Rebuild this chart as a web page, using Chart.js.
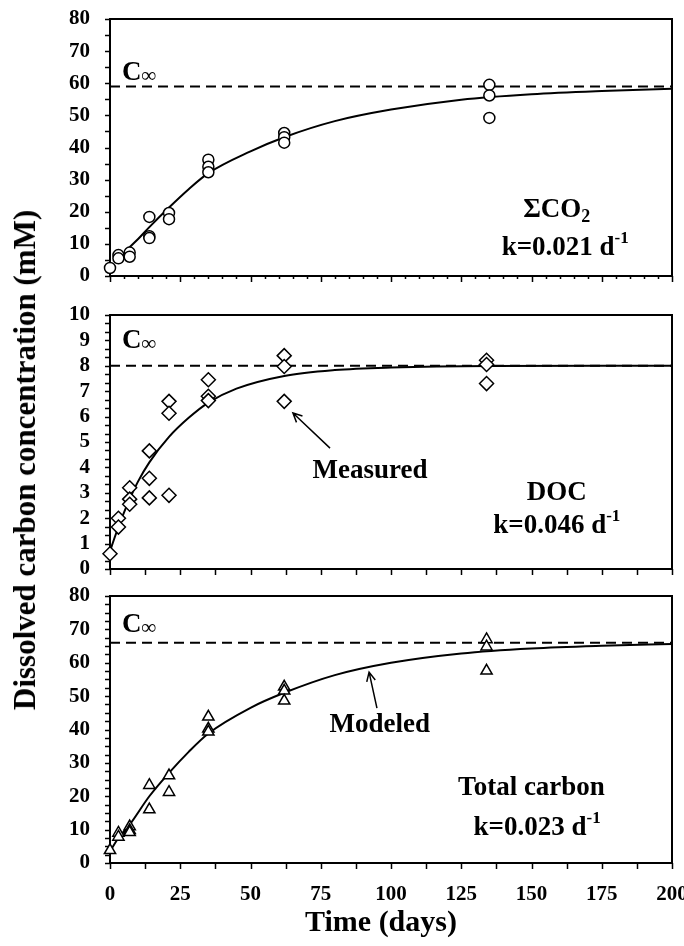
<!DOCTYPE html>
<html>
<head>
<meta charset="utf-8">
<script src="https://cdn.jsdelivr.net/npm/chart.js@4"></script>
<style>
  body { margin: 0; background: #fff; }
  #wrap { position: relative; width: 684px; height: 946px; }
  canvas { position: absolute; left: 0; }
  .title { position: absolute; font: bold 30px "Liberation Serif", serif; white-space: nowrap; color: #000; }
  #ytitle { left: 25px; top: 460px; transform: translate(-50%, -50%) rotate(-90deg); font-size: 31px; }
  #xtitle { left: 381px; top: 921px; transform: translate(-50%, -50%); }
</style>
</head>
<body>
<div id="wrap">
  <canvas id="co2Chart" width="684" height="290" style="top:0"></canvas>
  <canvas id="docChart" width="684" height="283" style="top:300px"></canvas>
  <canvas id="tcChart" width="684" height="366" style="top:580px"></canvas>
  <div class="title" id="ytitle">Dissolved carbon concentration (mM)</div>
  <div class="title" id="xtitle">Time (days)</div>
</div>
<script>
// x axis
const xTicks = [0, 25, 50, 75, 100, 125, 150, 175, 200];

// sum CO2 - measured and modeled
const co2Days = [0, 3, 3, 7, 7, 14, 14, 14, 21, 21, 35, 35, 35, 62, 62, 62, 135, 135, 135];
const co2Values = [2.5, 6.5, 5.5, 7.3, 6.0, 18.4, 12.4, 11.8, 19.6, 17.7, 36.2, 34.0, 32.3, 44.5, 43.2, 41.5, 59.5, 56.2, 49.2];
const co2CurveDays = [6, 10, 14, 21, 28, 35, 50, 62, 80, 100, 125, 150, 175, 200];
const co2CurveValues = [8.2, 11.5, 15.2, 21.3, 27.0, 32.0, 38.8, 43.2, 48.2, 51.8, 54.9, 56.6, 57.6, 58.3];
const co2Cinf = 59;
const co2YTicks = [0, 10, 20, 30, 40, 50, 60, 70, 80];

// DOC
const docDays = [0, 3, 3, 7, 7, 7, 14, 14, 14, 21, 21, 21, 35, 35, 35, 62, 62, 62, 134, 134, 134];
const docValues = [0.6, 2.0, 1.65, 3.2, 2.75, 2.55, 4.65, 3.57, 2.8, 6.6, 6.13, 2.9, 7.45, 6.8, 6.63, 8.4, 7.97, 6.6, 8.22, 8.05, 7.3];
const docCurveDays = [0, 2, 4, 7, 10, 14, 21, 28, 35, 45, 62, 80, 100, 135, 200];
const docCurveValues = [0.7, 1.35, 1.95, 2.75, 3.45, 4.2, 5.2, 5.95, 6.55, 7.1, 7.6, 7.83, 7.93, 7.99, 8.0];
const docCinf = 8;
const docYTicks = [0, 1, 2, 3, 4, 5, 6, 7, 8, 9, 10];

// total carbon
const tcDays = [0, 3, 3, 7, 7, 7, 14, 14, 21, 21, 35, 35, 35, 62, 62, 62, 134, 134, 134];
const tcValues = [3.8, 9.0, 7.8, 10.9, 9.8, 9.2, 23.3, 16.0, 26.2, 21.2, 43.8, 40.2, 39.3, 52.8, 51.6, 48.6, 67.0, 64.8, 57.6];
const tcCurveDays = [0, 3, 7, 14, 21, 28, 35, 50, 62, 80, 100, 125, 150, 175, 200];
const tcCurveValues = [3.5, 7.5, 11.5, 20.0, 27.0, 33.3, 38.8, 46.5, 51.0, 56.3, 60.0, 62.8, 64.3, 65.1, 65.6];
const tcCinf = 66;
const tcYTicks = [0, 10, 20, 30, 40, 50, 60, 70, 80];

const FONT = '"Liberation Serif", serif';

function pts(xs, ys) {
  return xs.map((x, i) => ({ x: x, y: ys[i] }));
}

// draws text pieces (normal / sub / sup) side by side, y is the baseline
function drawParts(ctx, parts, x, y, align) {
  let w = 0;
  parts.forEach(p => {
    ctx.font = 'bold ' + p[1] + 'px ' + FONT;
    w += ctx.measureText(p[0]).width;
  });
  let cx = align === 'center' ? x - w / 2 : x;
  ctx.textAlign = 'left';
  ctx.textBaseline = 'alphabetic';
  parts.forEach(p => {
    ctx.font = 'bold ' + p[1] + 'px ' + FONT;
    ctx.fillText(p[0], cx, y + p[2]);
    cx += ctx.measureText(p[0]).width;
  });
}

const panelPlugin = {
  id: 'panel',
  beforeDatasetsDraw(chart, args, opts) {
    const ctx = chart.ctx;
    const a = chart.chartArea;
    const xs = chart.scales.x, ys = chart.scales.y;
    ctx.save();
    ctx.strokeStyle = '#000';
    ctx.fillStyle = '#000';

    // ticks, major from the tick arrays, minor in between
    ctx.lineWidth = 1.5;
    ctx.beginPath();
    const n = Math.round(200 / opts.xMinor);
    for (let i = 0; i <= n; i++) {
      const v = i * opts.xMinor;
      const px = Math.round(xs.getPixelForValue(v)) + 0.5;
      const len = xTicks.includes(v) ? 6 : opts.xMinorLen;
      ctx.moveTo(px, a.bottom);
      ctx.lineTo(px, a.bottom + len);
    }
    const m = Math.round(ys.max / opts.yMinor);
    for (let i = 0; i <= m; i++) {
      const v = i * opts.yMinor;
      const py = Math.round(ys.getPixelForValue(v)) + 0.5;
      ctx.moveTo(a.left, py);
      ctx.lineTo(a.left - 5, py);
    }
    ctx.stroke();

    // frame
    ctx.lineWidth = 2;
    ctx.strokeRect(a.left, a.top, a.right - a.left, a.bottom - a.top);

    // labels
    opts.labels.forEach(l => {
      drawParts(ctx, l.parts, xs.getPixelForValue(l.x), ys.getPixelForValue(l.y), l.align);
    });

    // arrows
    ctx.lineWidth = 1.5;
    (opts.arrows || []).forEach(ar => {
      const x1 = xs.getPixelForValue(ar.from[0]), y1 = ys.getPixelForValue(ar.from[1]);
      const x2 = xs.getPixelForValue(ar.to[0]), y2 = ys.getPixelForValue(ar.to[1]);
      const ang = Math.atan2(y2 - y1, x2 - x1);
      ctx.beginPath();
      ctx.moveTo(x1, y1);
      ctx.lineTo(x2, y2);
      ctx.moveTo(x2 - 10 * Math.cos(ang - 0.45), y2 - 10 * Math.sin(ang - 0.45));
      ctx.lineTo(x2, y2);
      ctx.lineTo(x2 - 10 * Math.cos(ang + 0.45), y2 - 10 * Math.sin(ang + 0.45));
      ctx.stroke();
    });
    ctx.restore();
  }
};

function cinfLabel(y) {
  return { x: 4.3, y: y, align: 'left', parts: [['C', 27, 0], ['\u221E', 21, 2]] };
}

function makePanel(id, c) {
  const tickFont = { family: FONT, weight: 'bold', size: 21 };
  return new Chart(document.getElementById(id), {
    type: 'scatter',
    data: {
      datasets: [
        {
          data: pts(c.days, c.values),
          pointStyle: c.marker,
          pointRadius: c.radius,
          borderColor: '#000',
          backgroundColor: '#fff',
          borderWidth: 1.5,
          clip: false
        },
        {
          data: pts(c.curveDays, c.curveValues),
          showLine: true,
          pointRadius: 0,
          borderColor: '#000',
          borderWidth: 2,
          cubicInterpolationMode: 'monotone'
        },
        {
          data: pts([0, 200], [c.cinf, c.cinf]),
          showLine: true,
          pointRadius: 0,
          borderColor: '#000',
          borderWidth: 2,
          borderDash: [10, 6]
        }
      ]
    },
    options: {
      responsive: false,
      animation: false,
      events: [],
      layout: { padding: { top: c.padTop, right: 12, left: 0, bottom: 0 } },
      plugins: {
        legend: { display: false },
        tooltip: { enabled: false },
        panel: c.panel
      },
      scales: {
        x: {
          type: 'linear',
          min: 0,
          max: 200,
          grid: { display: false, drawTicks: false },
          border: { display: false },
          afterBuildTicks: s => { s.ticks = xTicks.map(v => ({ value: v })); },
          ticks: { display: c.showX, autoSkip: false, maxRotation: 0, padding: 19, color: '#000', font: tickFont },
          afterFit: s => { s.height = c.xHeight; s.paddingLeft = 0; s.paddingRight = 0; }
        },
        y: {
          min: 0,
          max: c.yTicks[c.yTicks.length - 1],
          grid: { display: false, drawTicks: false },
          border: { display: false },
          afterBuildTicks: s => { s.ticks = c.yTicks.map(v => ({ value: v })); },
          ticks: { autoSkip: false, padding: 20, color: '#000', font: tickFont },
          afterFit: s => { s.width = 110; s.paddingTop = 0; s.paddingBottom = 0; }
        }
      }
    },
    plugins: [panelPlugin]
  });
}

makePanel('co2Chart', {
  days: co2Days, values: co2Values,
  curveDays: co2CurveDays, curveValues: co2CurveValues,
  cinf: co2Cinf, yTicks: co2YTicks,
  marker: 'circle', radius: 5.5,
  padTop: 19, xHeight: 14, showX: false,
  panel: {
    xMinor: 5, xMinorLen: 3, yMinor: 5,
    labels: [
      cinfLabel(61),
      { x: 159, y: 18.4, align: 'center', parts: [['\u03A3CO', 27, 0], ['2', 18, 5]] },
      { x: 162, y: 6.5, align: 'center', parts: [['k=0.021 d', 27, 0], ['-1', 17, -12]] }
    ]
  }
});

makePanel('docChart', {
  days: docDays, values: docValues,
  curveDays: docCurveDays, curveValues: docCurveValues,
  cinf: docCinf, yTicks: docYTicks,
  marker: 'rectRot', radius: 7,
  padTop: 15, xHeight: 14, showX: false,
  panel: {
    xMinor: 12.5, xMinorLen: 6, yMinor: 1 / 3,
    labels: [
      cinfLabel(8.7),
      { x: 92.5, y: 3.58, align: 'center', parts: [['Measured', 27, 0]] },
      { x: 159, y: 2.72, align: 'center', parts: [['DOC', 27, 0]] },
      { x: 159, y: 1.42, align: 'center', parts: [['k=0.046 d', 27, 0], ['-1', 17, -12]] }
    ],
    arrows: [{ from: [78.3, 4.76], to: [65.1, 6.14] }]
  }
});

makePanel('tcChart', {
  days: tcDays, values: tcValues,
  curveDays: tcCurveDays, curveValues: tcCurveValues,
  cinf: tcCinf, yTicks: tcYTicks,
  marker: 'triangle', radius: 6.5,
  padTop: 16, xHeight: 83, showX: true,
  panel: {
    xMinor: 12.5, xMinorLen: 6, yMinor: 2.5,
    labels: [
      cinfLabel(69.2),
      { x: 96, y: 39.3, align: 'center', parts: [['Modeled', 27, 0]] },
      { x: 150, y: 20.4, align: 'center', parts: [['Total carbon', 27, 0]] },
      { x: 152, y: 8.4, align: 'center', parts: [['k=0.023 d', 27, 0], ['-1', 17, -12]] }
    ],
    arrows: [{ from: [95, 46.4], to: [92.2, 57.2] }]
  }
});
</script>
</body>
</html>
